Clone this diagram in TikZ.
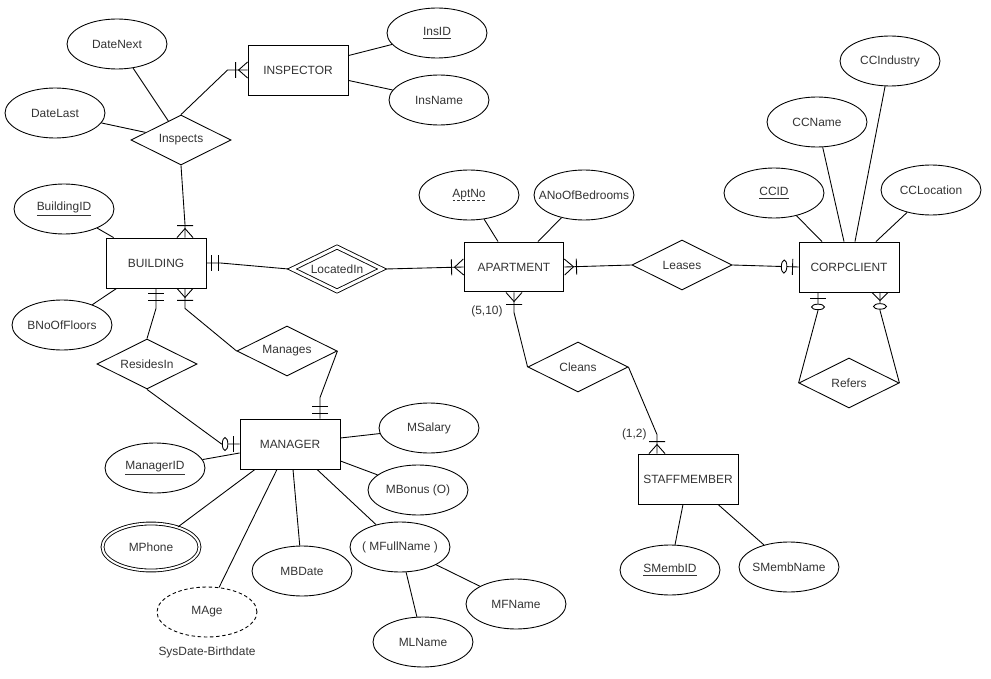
\documentclass[tikz,border=0pt]{standalone}
\usepackage{fontspec}
\setmainfont{Liberation Sans}
\usetikzlibrary{positioning, calc, shapes.geometric, arrows.meta}
\definecolor{ertext}{HTML}{333333}
\newcommand{\erfont}{\fontsize{6.8}{8}\selectfont}
\newcommand{\attrtxt}[1]{\makebox[0pt]{#1}}

\pgfdeclarearrow{
	name = erOneMany,
	setup code = {
			\pgfarrowssettipend{0pt}
			\pgfarrowssetlineend{0pt}
			\pgfarrowssetbackend{-0.26cm}
			\pgfarrowshullpoint{0pt}{0.17cm}
			\pgfarrowshullpoint{0pt}{-0.17cm}
			\pgfarrowshullpoint{-0.26cm}{0.17cm}
			\pgfarrowshullpoint{-0.26cm}{-0.17cm}
		},
	drawing code = {
			\pgfsetdash{}{0pt}
			\pgfpathmoveto{\pgfpoint{0pt}{0.16cm}}
			\pgfpathlineto{\pgfpoint{-0.18cm}{0pt}}
			\pgfpathlineto{\pgfpoint{0pt}{-0.16cm}}
			\pgfpathmoveto{\pgfpoint{-0.24cm}{0.16cm}}
			\pgfpathlineto{\pgfpoint{-0.24cm}{-0.16cm}}
			\pgfusepathqstroke
		}
}
\pgfdeclarearrow{
	name = erMandOne,
	setup code = {
			\pgfarrowssettipend{0pt}
			\pgfarrowssetlineend{0pt}
			\pgfarrowssetbackend{-0.26cm}
			\pgfarrowshullpoint{0pt}{0.17cm}
			\pgfarrowshullpoint{0pt}{-0.17cm}
			\pgfarrowshullpoint{-0.26cm}{0.17cm}
			\pgfarrowshullpoint{-0.26cm}{-0.17cm}
		},
	drawing code = {
			\pgfsetdash{}{0pt}
			\pgfpathmoveto{\pgfpoint{-0.10cm}{0.16cm}}
			\pgfpathlineto{\pgfpoint{-0.10cm}{-0.16cm}}
			\pgfpathmoveto{\pgfpoint{-0.24cm}{0.16cm}}
			\pgfpathlineto{\pgfpoint{-0.24cm}{-0.16cm}}
			\pgfusepathqstroke
		}
}
\pgfdeclarearrow{
	name = erZeroOne,
	setup code = {
			\pgfarrowssettipend{0pt}
			\pgfarrowssetlineend{0pt}
			\pgfarrowssetbackend{-0.36cm}
			\pgfarrowshullpoint{0pt}{0.17cm}
			\pgfarrowshullpoint{0pt}{-0.17cm}
			\pgfarrowshullpoint{-0.36cm}{0.17cm}
			\pgfarrowshullpoint{-0.36cm}{-0.17cm}
		},
	drawing code = {
			\pgfsetdash{}{0pt}
			\pgfpathmoveto{\pgfpoint{-0.12cm}{0.16cm}}
			\pgfpathlineto{\pgfpoint{-0.12cm}{-0.16cm}}
			\pgfusepathqstroke
			\pgfsetfillcolor{white}
			\pgfpathellipse{\pgfpoint{-0.29cm}{0pt}}{\pgfpoint{0.055cm}{0pt}}{\pgfpoint{0pt}{0.13cm}}
			\pgfusepathqfillstroke
		}
}
\pgfdeclarearrow{
	name = erZeroMany,
	setup code = {
			\pgfarrowssettipend{0pt}
			\pgfarrowssetlineend{0pt}
			\pgfarrowssetbackend{-0.36cm}
			\pgfarrowshullpoint{0pt}{0.17cm}
			\pgfarrowshullpoint{0pt}{-0.17cm}
			\pgfarrowshullpoint{-0.36cm}{0.17cm}
			\pgfarrowshullpoint{-0.36cm}{-0.17cm}
		},
	drawing code = {
			\pgfsetdash{}{0pt}
			\pgfpathmoveto{\pgfpoint{0pt}{0.16cm}}
			\pgfpathlineto{\pgfpoint{-0.16cm}{0pt}}
			\pgfpathlineto{\pgfpoint{0pt}{-0.16cm}}
			\pgfusepathqstroke
			\pgfsetfillcolor{white}
			\pgfpathellipse{\pgfpoint{-0.28cm}{0pt}}{\pgfpoint{0.055cm}{0pt}}{\pgfpoint{0pt}{0.13cm}}
			\pgfusepathqfillstroke
		}
}

\tikzset{
	entity/.style={draw, rectangle, minimum width=2cm, minimum height=1cm, inner sep=0pt},
	weakentity/.style={draw, rectangle, double, double distance=0.08cm, minimum width=1.9cm, minimum height=0.9cm, inner sep=0pt, outer sep=0.06cm},
	relation/.style={draw, diamond, aspect=2, minimum width=2cm, minimum height=1cm, inner sep=0pt},
	weakrelation/.style={relation, double, double distance=0.06cm, minimum width=1.84cm, minimum height=0.92cm, outer sep=0.05cm}
}
\tikzset{
	attribute/.style={draw, ellipse, minimum width=2cm, minimum height=1cm, inner sep=0pt},
	multiattr/.style={attribute, double, double distance=0.04cm, minimum width=1.94cm, minimum height=0.94cm},
	derivedattr/.style={attribute, dash pattern=on 2pt off 1.5pt},
	partialkey/.style={draw=ertext, line width=0.4pt, dash pattern=on 1.7pt off 1.1pt},
	cardtext/.style={inner sep=0pt}
}

\begin{document}
\begin{tikzpicture}[x=0.02cm, y=-0.02cm, font=\erfont, text=ertext, line width=0.5pt]
\useasboundingbox (0,0) rectangle (991,679);

% entities
\node[entity] (inspector) at (298,70) {INSPECTOR};
\node[entity] (building) at (156,263) {BUILDING};
\node[weakentity] (apartment) at (514,267) {APARTMENT};
\node[entity] (corpclient) at (849,267) {CORPCLIENT};
\node[entity] (manager) at (290,444) {MANAGER};
\node[entity] (staff) at (688,479) {STAFFMEMBER};

% relationships
\node[relation] (inspects) at (181,140) {Inspects};
\node[weakrelation] (locatedin) at (337,269) {LocatedIn};
\node[relation] (leases) at (682,265) {Leases};
\node[relation] (residesin) at (147,364) {ResidesIn};
\node[relation] (manages) at (287,351) {Manages};
\node[relation] (cleans) at (578,367) {Cleans};
\node[relation] (refers) at (849,383) {Refers};

% attributes
\node[attribute] (datenext) at (117,44) {\attrtxt{DateNext}};
\node[attribute] (datelast) at (55,113) {\attrtxt{DateLast}};
\node[attribute] (insid) at (437,33) {\attrtxt{\underline{InsID}}};
\node[attribute] (insname) at (439,100) {\attrtxt{InsName}};
\node[attribute] (buildingid) at (64,209) {\attrtxt{\underline{BuildingID}}};
\node[attribute] (bnooffloors) at (62,325) {\attrtxt{BNoOfFloors}};
\node[attribute] (aptno) at (469,195) {\attrtxt{AptNo}};
\node[attribute] (anoofbedrooms) at (584,195) {\attrtxt{ANoOfBedrooms}};
\node[attribute] (ccid) at (774,193) {\attrtxt{\underline{CCID}}};
\node[attribute] (ccname) at (817,122) {\attrtxt{CCName}};
\node[attribute] (ccindustry) at (890,61) {\attrtxt{CCIndustry}};
\node[attribute] (cclocation) at (931,190) {\attrtxt{CCLocation}};
\node[attribute] (managerid) at (155,468) {\attrtxt{\underline{ManagerID}}};
\node[attribute] (msalary) at (429,428) {\attrtxt{MSalary}};
\node[attribute] (mbonus) at (418,490) {\attrtxt{MBonus (O)}};
\node[multiattr] (mphone) at (151,547) {\attrtxt{MPhone}};
\node[derivedattr] (mage) at (207,612) {\attrtxt{MAge}};
\node[attribute] (mbdate) at (302,571) {\attrtxt{MBDate}};
\node[attribute] (mfullname) at (400,547) {\attrtxt{( MFullName )}};
\node[attribute] (mfname) at (516,604) {\attrtxt{MFName}};
\node[attribute] (mlname) at (423,642) {\attrtxt{MLName}};
\node[attribute] (smembid) at (670,570) {\attrtxt{\underline{SMembID}}};
\node[attribute] (smembname) at (789,567) {\attrtxt{SMembName}};

\draw[partialkey] ([xshift=-0.33cm, yshift=-1.6pt]aptno.base) -- ([xshift=0.33cm, yshift=-1.6pt]aptno.base);

\node[cardtext, below=0.18cm of mage] (magenote) {SysDate-Birthdate};
\node[cardtext, anchor=east] (cleansapt) at (503,311) {(5,10)};
\node[cardtext, anchor=east] (cleansstaff) at (647,434) {(1,2)};

% attribute lines
\draw (datenext) -- (inspects);
\draw (datelast) -- (inspects);
\draw ($(inspector.north east)+(0,11)$) -- (insid);
\draw ($(inspector.south east)+(0,-15)$) -- (insname);
\draw ($(building.north west)+(8,0)$) -- (buildingid);
\draw ($(building.south west)+(11,0)$) -- (bnooffloors);
\draw ($(apartment.north)+(-16,0)$) -- (aptno);
\draw ($(apartment.north)+(24,0)$) -- (anoofbedrooms);
\draw ($(corpclient.north)+(-27,0)$) -- (ccid);
\draw ($(corpclient.north)+(-5,0)$) -- (ccname);
\draw ($(corpclient.north)+(6,0)$) -- (ccindustry);
\draw ($(corpclient.north)+(27,0)$) -- (cclocation);
\draw ($(manager.west)+(0,9)$) -- (managerid);
\draw ($(manager.east)+(0,-6)$) -- (msalary);
\draw ($(manager.east)+(0,17)$) -- (mbonus);
\draw ($(manager.south)+(-35,0)$) -- (mphone);
\draw ($(manager.south)+(-13,0)$) -- (mage);
\draw ($(manager.south)+(3,0)$) -- (mbdate);
\draw ($(manager.south)+(27,0)$) -- (mfullname);
\draw (mfullname) -- (mfname);
\draw (mfullname) -- (mlname);
\draw ($(staff.south)+(-5,0)$) -- (smembid);
\draw ($(staff.south)+(30,0)$) -- (smembname);

% relationship lines
\draw[-{erOneMany}] (inspects.north) -- ($(inspector.west)+(-20,0)$) -- (inspector.west);
\draw[-{erOneMany}] (inspects.south) -- ($(building.north)+(29,-13)$) -- ($(building.north)+(29,0)$);
\draw[{erMandOne}-] (building.east) -- ++(14,0) -- (locatedin.west);
\draw[-{erOneMany}] (locatedin.east) -- (apartment.west);
\draw[{erOneMany}-] (apartment.east) -- (leases.west);
\draw[-{erZeroOne}] (leases.east) -- (corpclient.west);
\draw[{erMandOne}-] (building.south) -- ++(0,20) -- (residesin.north);
\draw[-{erZeroOne}] (residesin.south) -- ($(manager.west)+(-18,0)$) -- (manager.west);
\draw[{erOneMany}-] ($(building.south)+(29,0)$) -- ++(0,20) -- (manages.west);
\draw[-{erMandOne}] (manages.east) -- ($(manager.north)+(30,-21)$) -- ($(manager.north)+(30,0)$);
\draw[{erOneMany}-] (apartment.south) -- ++(0,20) -- (cleans.west);
\draw[-{erOneMany}] (cleans.east) -- ($(staff.north)+(-31,-19)$) -- ($(staff.north)+(-31,0)$);
\draw[{erZeroOne}-] ($(corpclient.south)+(-31,0)$) -- ++(0,18) -- (refers.west);
\draw[{erZeroMany}-] ($(corpclient.south)+(31,0)$) -- ++(0,18) -- (refers.east);

\end{tikzpicture}
\end{document}
